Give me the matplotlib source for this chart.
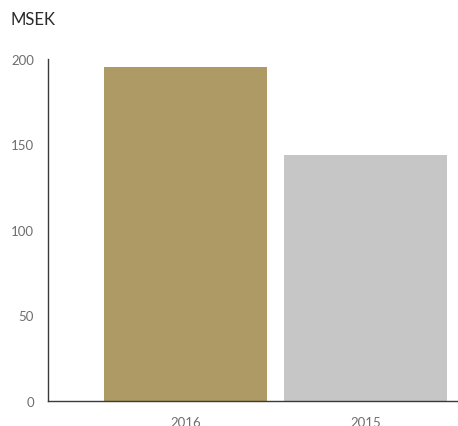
"""Bar chart: MSEK 2016 vs 2015."""
import matplotlib
matplotlib.use("Agg")
import matplotlib.pyplot as plt

years = ["2016", "2015"]
values = [195.3, 143.9]
colors = ["#AD9A64", "#C6C6C6"]
yticks = [0, 50, 100, 150, 200]

plt.rcParams["font.family"] = ["Lato", "DejaVu Sans"]

fig = plt.figure(figsize=(4.58, 4.27), dpi=100)
ax = fig.add_axes([48 / 458, 25 / 427, 410 / 458, 342 / 427])

x = list(range(len(years)))
ax.bar(x, values, width=0.906, color=colors)

ax.set_xlim(-0.764, 1.514)
ax.set_ylim(0, 200)
ax.set_yticks(yticks)
ax.set_yticklabels([str(t) for t in yticks])
ax.set_xticks(x)
ax.set_xticklabels(years)
ax.tick_params(axis="both", length=0, labelsize=9.5, colors="#6E6E6E")
ax.tick_params(axis="y", pad=10)
ax.tick_params(axis="x", pad=11)

for side in ["top", "right"]:
    ax.spines[side].set_visible(False)
for side in ["left", "bottom"]:
    ax.spines[side].set_color("#3A3A3A")
    ax.spines[side].set_linewidth(1.0)

fig.text(10 / 458, 1 - 20 / 427, "MSEK", fontsize=12, color="#2A2A2A", va="center", ha="left")

fig.savefig("out.png", dpi=100)
